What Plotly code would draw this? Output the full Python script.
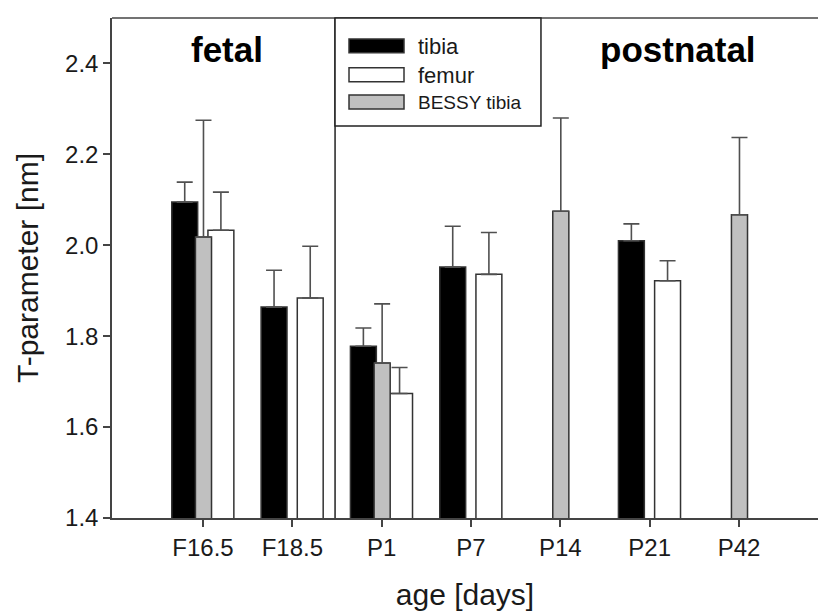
import plotly.graph_objects as go

categories = ["F16.5", "F18.5", "P1", "P7", "P14", "P21", "P42"]
cat_pos = [0, 1, 2, 3, 4, 5, 6]

tibia_val = [2.095, 1.864, 1.778, 1.952, None, 2.010, None]
tibia_err = [2.139, 1.945, 1.818, 2.042, None, 2.047, None]

femur_val = [2.033, 1.884, 1.674, 1.936, None, 1.922, None]
femur_err = [2.117, 1.998, 1.731, 2.028, None, 1.966, None]

bessy_val = [2.018, None, 1.741, None, 2.075, None, 2.067]
bessy_err = [2.275, None, 1.871, None, 2.280, None, 2.237]

y_ticks = [1.4, 1.6, 1.8, 2.0, 2.2, 2.4]

FONT = "Liberation Sans, Arial, sans-serif"
EDGE = "#333333"
ERR = "#505050"


def upper(vals, tops):
    return [(t - v) if (v is not None and t is not None) else None for v, t in zip(vals, tops)]


def zeros(vals):
    return [0 if v is not None else None for v in vals]


fig = go.Figure()

fig.add_trace(go.Bar(
    x=cat_pos, y=tibia_val, name="tibia",
    width=0.29, offset=-0.35,
    marker=dict(color="#000000", line=dict(color=EDGE, width=1.5)),
    error_y=dict(type="data", symmetric=False, array=upper(tibia_val, tibia_err),
                 arrayminus=zeros(tibia_val), color=ERR, thickness=1.6, width=8),
    showlegend=False,
))
fig.add_trace(go.Bar(
    x=cat_pos, y=femur_val, name="femur",
    width=0.29, offset=0.055,
    marker=dict(color="#ffffff", line=dict(color=EDGE, width=1.5)),
    error_y=dict(type="data", symmetric=False, array=upper(femur_val, femur_err),
                 arrayminus=zeros(femur_val), color=ERR, thickness=1.6, width=8),
    showlegend=False,
))
fig.add_trace(go.Bar(
    x=cat_pos, y=bessy_val, name="BESSY tibia",
    width=0.18, offset=-0.085,
    marker=dict(color="#c0c0c0", line=dict(color=EDGE, width=1.5)),
    error_y=dict(type="data", symmetric=False, array=upper(bessy_val, bessy_err),
                 arrayminus=zeros(bessy_val), color=ERR, thickness=1.6, width=8),
    showlegend=False,
))

fig.update_layout(
    width=818, height=614,
    margin=dict(l=112, r=0, t=18, b=96),
    barmode="overlay",
    plot_bgcolor="white", paper_bgcolor="white",
    font=dict(family=FONT, color="#1a1a1a"),
    showlegend=False,
)

fig.update_xaxes(
    range=[-1.019, 6.884],
    tickmode="array", tickvals=cat_pos, ticktext=categories,
    ticks="outside", ticklen=7, tickwidth=1.5, tickcolor="#444",
    showline=True, linecolor="#444", linewidth=1.5,
    showgrid=False, zeroline=False,
    tickfont=dict(size=24, family=FONT, color="#1a1a1a"),
    title=dict(text="age [days]", font=dict(size=30, family=FONT, color="#1a1a1a"), standoff=24),
)
fig.update_yaxes(
    range=[1.4, 2.5],
    tickmode="array", tickvals=y_ticks, ticktext=[f"{v:.1f}" for v in y_ticks],
    ticks="outside", ticklen=7, tickwidth=1.5, tickcolor="#444",
    showline=True, linecolor="#444", linewidth=1.5,
    showgrid=False, zeroline=False,
    tickfont=dict(size=24, family=FONT, color="#1a1a1a"),
    title=dict(text="T-parameter [nm]", font=dict(size=30, family=FONT, color="#1a1a1a"), standoff=18),
)

shapes = []
# top border
shapes.append(dict(type="line", xref="paper", yref="paper", x0=0, x1=1, y0=1, y1=1,
                   line=dict(color="#444", width=1.5)))
# fetal / postnatal divider
shapes.append(dict(type="line", xref="x", yref="y", x0=1.478, x1=1.478, y0=1.4, y1=2.5,
                   line=dict(color="#222", width=1.5)))
# legend box
shapes.append(dict(type="rect", xref="paper", yref="paper", x0=0.3159, x1=0.6076, y0=0.784, y1=1.0,
                   line=dict(color="#222", width=1.5), fillcolor="white"))
legend_items = [("tibia", "#000000", 0.958, 0.9306, 0.944, 22),
                ("femur", "#ffffff", 0.9006, 0.8726, 0.886, 22),
                ("BESSY tibia", "#c0c0c0", 0.846, 0.818, 0.832, 19)]
annotations = []
for label, col, ya, yb, yt, fs in legend_items:
    shapes.append(dict(type="rect", xref="paper", yref="paper", x0=0.3357, x1=0.4136, y0=yb, y1=ya,
                       line=dict(color=EDGE, width=1.5), fillcolor=col))
    annotations.append(dict(xref="paper", yref="paper", x=0.431, y=yt, text=label, showarrow=False,
                            xanchor="left", yanchor="middle", font=dict(size=fs, family=FONT, color="#1a1a1a")))

annotations.append(dict(xref="paper", yref="paper", x=0.163, y=0.938, text="<b>fetal</b>", showarrow=False,
                        xanchor="center", yanchor="middle", font=dict(size=35, family=FONT, color="#000")))
annotations.append(dict(xref="paper", yref="paper", x=0.8017, y=0.938, text="<b>postnatal</b>", showarrow=False,
                        xanchor="center", yanchor="middle", font=dict(size=35, family=FONT, color="#000")))

fig.update_layout(shapes=shapes, annotations=annotations)

fig.write_html("out.html")
